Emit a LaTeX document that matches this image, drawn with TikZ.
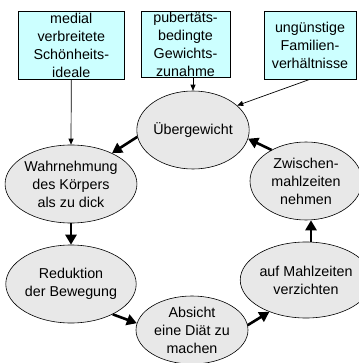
\documentclass[tikz,border=0pt]{standalone}
\usepackage{fontspec}
\setmainfont{Liberation Sans}
\usetikzlibrary{shapes.geometric,arrows.meta}
\definecolor{boxcyan}{HTML}{CCFFFF}
\definecolor{ellgray}{HTML}{E8E8E8}
\begin{document}
\begin{tikzpicture}[x=1pt,y=-1pt,
  every node/.style={font=\fontsize{14.3}{18}\selectfont, align=center, inner sep=0pt},
  factor/.style={draw, line width=0.6pt, fill=boxcyan},
  cyc/.style={ellipse, draw, line width=0.6pt, fill=ellgray, minimum width=112pt, minimum height=78pt},
  thickarrow/.style={line width=2.6pt, -{Triangle[length=10pt,width=11pt]}},
  thinarrow/.style={line width=0.7pt, -{Triangle[length=6pt,width=5pt]}}
]
\useasboundingbox (0,0) rectangle (358,363);
% factor boxes
\node[factor, minimum width=106pt, minimum height=68pt] (box1) at (71.3,45) {medial\\verbreitete\\Schönheits-\\ideale};
\node[factor, minimum width=89pt, minimum height=66pt] (box2) at (185.5,44) {pubertäts-\\bedingte\\Gewichts-\\zunahme};
\node[factor, minimum width=92pt, minimum height=68pt] (box3) at (310,45) {ungünstige\\Familien-\\verhältnisse};
% cycle ellipses
\node[cyc] (ueber) at (193,130) {Übergewicht};
\node[cyc] (wahr) at (71,184) {Wahrnehmung\\des Körpers\\als zu dick};
\node[cyc] (zw) at (306,181) {Zwischen-\\mahlzeiten\\nehmen};
\node[cyc] (red) at (71,284) {Reduktion\\der Bewegung};
\node[cyc, minimum width=104pt, minimum height=76pt] (auf) at (306,280) {auf Mahlzeiten\\verzichten};
\node[cyc, minimum height=68pt] (abs) at (192,330) {Absicht\\eine Diät zu\\machen};
% influences
\draw[thinarrow] (box1.south) -- (wahr.north);
\draw[thinarrow] (box2.south -| ueber.north) -- (ueber.north);
\draw[thinarrow] (box3.south) -- (ueber.29);
% cycle
\draw[thickarrow] (ueber.187) -- (wahr.37);
\draw[thickarrow] (wahr.south) -- (red.north);
\draw[thickarrow] (red.324) -- (abs.173);
\draw[thickarrow] (abs.5) -- (auf.221);
\draw[thickarrow] ([xshift=5pt]auf.north) -- ([xshift=5pt]zw.south);
\draw[thickarrow] (zw.138) -- (ueber.351);
\end{tikzpicture}
\end{document}
